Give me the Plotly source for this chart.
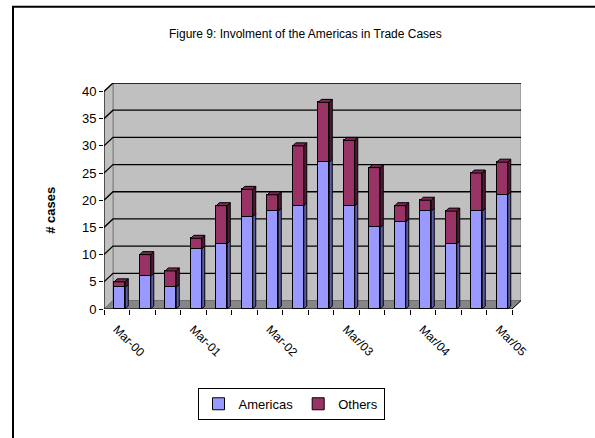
import plotly.graph_objects as go

# Trade cases per four-month period, split by party
periods = ["Mar-00", "Jul-00", "Nov-00", "Mar-01", "Jul-01", "Nov-01",
           "Mar-02", "Jul-02", "Nov-02", "Mar/03", "Jul/03", "Nov/03",
           "Mar/04", "Jul/04", "Nov/04", "Mar/05"]
americas = [4, 6, 4, 11, 12, 17, 18, 19, 27, 19, 15, 16, 18, 12, 18, 21]
others = [1, 4, 3, 2, 7, 5, 3, 11, 11, 12, 11, 3, 2, 6, 7, 6]
label_every = 3
y_ticks = [0, 5, 10, 15, 20, 25, 30, 35, 40]

AM_FACE, AM_SIDE = "#9999FF", "#5C5CA6"
OT_FACE, OT_SIDE, OT_TOP = "#993366", "#4F1A35", "#7A2852"
WALL, FLOOR = "#C0C0C0", "#868686"
FONT = "Liberation Sans Narrow, Arial Narrow, Liberation Sans, Arial, sans-serif"

# Figure geometry (pixels) for the pseudo-3D frame
W, H = 595, 438
L, R, T, B = 104, 74, 82.5, 129
px_x = 25.5          # pixels per category
px_y = 5.45          # pixels per case
n = len(periods)
ymax = 40
wall_dx = 9 / px_x   # depth of the back wall in data units
wall_dy = 8.5 / px_y
bar_w = 11 / px_x
bar_shift = 3 / px_x
bar_dx = 3 / px_x
bar_dy = 3 / px_y

x0, x1 = -0.5, n - 0.5
plot_w = W - L - R
plot_h = H - T - B


def px_to_paper(px, py):
    return (px - L) / plot_w, (H - B - py) / plot_h


fig = go.Figure()

# front faces of the stacked columns
xs = list(range(n))
fig.add_trace(go.Bar(x=xs, y=americas, name="Americas", width=bar_w,
                     offset=-bar_w / 2 + bar_shift,
                     marker=dict(color=AM_FACE, line=dict(color="black", width=1))))
fig.add_trace(go.Bar(x=xs, y=others, name="Others", width=bar_w,
                     offset=-bar_w / 2 + bar_shift,
                     marker=dict(color=OT_FACE, line=dict(color="black", width=1))))


def side_polys(lows, highs):
    px, py = [], []
    for i, (lo, hi) in enumerate(zip(lows, highs)):
        xr = i + bar_shift + bar_w / 2
        px += [xr, xr + bar_dx, xr + bar_dx, xr, xr, None]
        py += [lo, lo + bar_dy, hi + bar_dy, hi, lo, None]
    return px, py


def top_polys(tops):
    px, py = [], []
    for i, t in enumerate(tops):
        xl = i + bar_shift - bar_w / 2
        xr = xl + bar_w
        px += [xl, xr, xr + bar_dx, xl + bar_dx, xl, None]
        py += [t, t, t + bar_dy, t + bar_dy, t, None]
    return px, py


totals = [a + o for a, o in zip(americas, others)]
for (px, py), col in [(side_polys([0] * n, americas), AM_SIDE),
                      (side_polys(americas, totals), OT_SIDE),
                      (top_polys(totals), OT_TOP)]:
    fig.add_trace(go.Scatter(x=px, y=py, mode="lines", fill="toself",
                             fillcolor=col, line=dict(color="black", width=1),
                             hoverinfo="skip", showlegend=False))

shapes = []
# back wall, left wall and floor
shapes.append(dict(type="path", xref="x", yref="y", layer="below",
                   path=f"M{x0+wall_dx},{wall_dy} L{x1+wall_dx},{wall_dy} L{x1+wall_dx},{ymax+wall_dy} "
                        f"L{x0+wall_dx},{ymax+wall_dy} Z",
                   fillcolor=WALL, line=dict(color="#808080", width=1)))
shapes.append(dict(type="path", xref="x", yref="y", layer="below",
                   path=f"M{x0},0 L{x0+wall_dx},{wall_dy} L{x0+wall_dx},{ymax+wall_dy} L{x0},{ymax} Z",
                   fillcolor=WALL, line=dict(color="#808080", width=1)))
shapes.append(dict(type="path", xref="x", yref="y", layer="below",
                   path=f"M{x0},0 L{x1},0 L{x1+wall_dx},{wall_dy} L{x0+wall_dx},{wall_dy} Z",
                   fillcolor=FLOOR, line=dict(color="#707070", width=1)))
# gridlines wrapping the left and back walls
for v in y_ticks[1:]:
    shapes.append(dict(type="path", xref="x", yref="y", layer="below",
                       path=f"M{x0},{v} L{x0+wall_dx},{v+wall_dy} L{x1+wall_dx},{v+wall_dy}",
                       line=dict(color="black", width=1.3)))
# axis lines
shapes.append(dict(type="line", xref="x", yref="y", x0=x0, y0=0, x1=x0, y1=ymax,
                   line=dict(color="black", width=1)))
shapes.append(dict(type="path", xref="x", yref="y",
                   path=f"M{x0},0 L{x1},0 L{x1+wall_dx},{wall_dy}",
                   line=dict(color="black", width=1)))
# outer chart border
bx0, by0 = px_to_paper(13, 6)
bx1, by1 = px_to_paper(W + 10, H + 10)
shapes.append(dict(type="rect", xref="paper", yref="paper", x0=bx0, y0=by1, x1=bx1, y1=by0,
                   line=dict(color="black", width=2), fillcolor="rgba(0,0,0,0)"))

tx, ty = px_to_paper(305, 24)
yx, yy = px_to_paper(41, 210)
annotations = [
    dict(text="Figure 9: Involment of the Americas in Trade Cases", xref="paper", yref="paper",
         x=tx, y=ty, showarrow=False, font=dict(family=FONT, size=12, color="black")),
    dict(text="<b># cases</b>", xref="paper", yref="paper", x=yx, y=yy, textangle=-90,
         showarrow=False, font=dict(family="Liberation Sans, Arial, sans-serif", size=13, color="black")),
]

lx, ly = px_to_paper(291, 388)
fig.update_layout(
    width=W, height=H,
    margin=dict(l=L, r=R, t=T, b=B, autoexpand=False),
    paper_bgcolor="white", plot_bgcolor="rgba(0,0,0,0)",
    barmode="stack", bargap=0,
    shapes=shapes, annotations=annotations,
    font=dict(family=FONT, size=12, color="black"),
    legend=dict(orientation="h", x=lx, y=ly, xanchor="center", yanchor="top",
                traceorder="normal",
                bordercolor="black", borderwidth=1, bgcolor="white",
                font=dict(family=FONT, size=13), itemwidth=30, tracegroupgap=0),
    xaxis=dict(range=[x0, x1 + wall_dx], showgrid=False, zeroline=False, showline=False,
               tickmode="array", tickvals=xs[::label_every], ticktext=periods[::label_every],
               tickangle=45, ticks="", ticklabelstandoff=10,
               minor=dict(tickmode="array", tickvals=[i - 0.5 for i in range(n + 1)],
                          ticks="outside", ticklen=5, tickcolor="black", showgrid=False),
               fixedrange=True),
    yaxis=dict(range=[0, ymax + wall_dy], showgrid=False, zeroline=False, showline=False,
               tickmode="array", tickvals=y_ticks, ticks="outside", ticklen=4,
               tickcolor="black", tickfont=dict(size=13), fixedrange=True),
)

fig.write_html("out.html")
